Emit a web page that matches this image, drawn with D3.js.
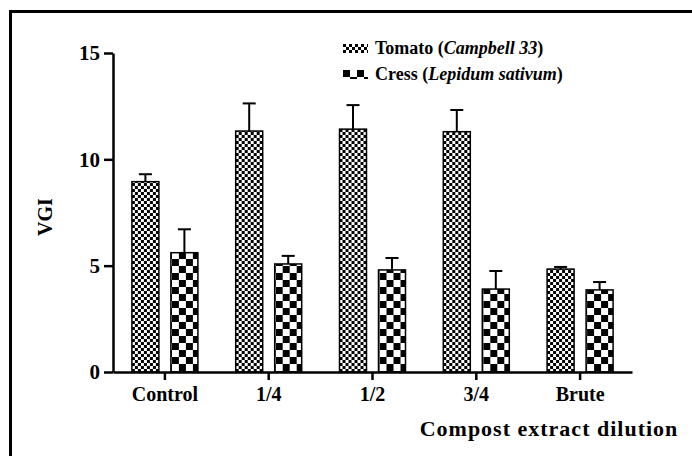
<!DOCTYPE html>
<html>
<head>
<meta charset="utf-8">
<script src="https://cdn.jsdelivr.net/npm/d3@7"></script>
<style>
  body { margin: 0; background: #fff; }
  svg { display: block; }
  text { font-family: "Liberation Serif", "Times New Roman", Times, "Nimbus Roman", "DejaVu Serif", serif !important; font-weight: bold; fill: #000; }
</style>
</head>
<body>
<script>
// chart data
const categories = ["Control", "1/4", "1/2", "3/4", "Brute"];
const series = ["Tomato", "Cress"];
const tomatoVgi = [8.95, 11.33, 11.42, 11.3, 4.84];
const tomatoErr = [0.35, 1.3, 1.13, 1.02, 0.1];
const cressVgi = [5.61, 5.08, 4.8, 3.9, 3.86];
const cressErr = [1.1, 0.38, 0.56, 0.85, 0.37];
const yTicks = [0, 5, 10, 15];

const width = 692, height = 456;

const svg = d3.select("body").append("svg")
  .attr("width", width)
  .attr("height", height);

// fill patterns
const defs = svg.append("defs");
function checker(id, cell) {
  const p = defs.append("pattern")
    .attr("id", id)
    .attr("patternUnits", "userSpaceOnUse")
    .attr("width", cell * 2)
    .attr("height", cell * 2);
  p.append("rect").attr("width", cell * 2).attr("height", cell * 2).attr("fill", "#fff");
  p.append("rect").attr("width", cell).attr("height", cell).attr("fill", "#000");
  p.append("rect").attr("x", cell).attr("y", cell).attr("width", cell).attr("height", cell).attr("fill", "#000");
}
checker("pat-tomato", 3);
checker("pat-cress", 7);
const fills = { Tomato: "url(#pat-tomato)", Cress: "url(#pat-cress)" };

// outer frame (cropped on the right and bottom)
svg.append("rect")
  .attr("x", 10.5).attr("y", 11.5)
  .attr("width", 720).attr("height", 500)
  .attr("fill", "none")
  .attr("stroke", "#000")
  .attr("stroke-width", 3);

const x = d3.scaleBand()
  .domain(categories)
  .range([113, 632])
  .padding(0);

const x1 = d3.scaleBand()
  .domain(series)
  .range([-33, 33])
  .paddingInner(12 / 39);

const y = d3.scaleLinear()
  .domain([0, 15])
  .range([372, 53]);

const rows = categories.map((c, i) => ({
  cat: c,
  vals: [
    { s: "Tomato", v: tomatoVgi[i], e: tomatoErr[i] },
    { s: "Cress", v: cressVgi[i], e: cressErr[i] }
  ]
}));

const groups = svg.append("g").selectAll("g")
  .data(rows)
  .enter().append("g")
  .attr("transform", d => `translate(${x(d.cat) + x.bandwidth() / 2},0)`);

const bars = groups.selectAll("g")
  .data(d => d.vals)
  .enter().append("g");

// error bars (upper only)
bars.append("line")
  .attr("x1", d => x1(d.s) + x1.bandwidth() / 2)
  .attr("x2", d => x1(d.s) + x1.bandwidth() / 2)
  .attr("y1", d => y(d.v))
  .attr("y2", d => y(d.v + d.e))
  .attr("stroke", "#000")
  .attr("stroke-width", 2);
bars.append("line")
  .attr("x1", d => x1(d.s) + x1.bandwidth() / 2 - 6.5)
  .attr("x2", d => x1(d.s) + x1.bandwidth() / 2 + 6.5)
  .attr("y1", d => y(d.v + d.e))
  .attr("y2", d => y(d.v + d.e))
  .attr("stroke", "#000")
  .attr("stroke-width", 2);

bars.append("rect")
  .attr("x", d => x1(d.s))
  .attr("y", d => y(d.v))
  .attr("width", x1.bandwidth())
  .attr("height", d => y(0) - y(d.v))
  .attr("fill", d => fills[d.s])
  .attr("stroke", "#000")
  .attr("stroke-width", 1.5);

// y axis
const yAxis = svg.append("g")
  .attr("transform", "translate(113,0)")
  .call(d3.axisLeft(y).tickValues(yTicks).tickSize(9).tickPadding(4).tickSizeOuter(0));
yAxis.attr("font-family", null);
yAxis.select(".domain").attr("stroke-width", 2.5);
yAxis.selectAll(".tick line").attr("stroke-width", 2.5);
yAxis.selectAll("text").style("font-size", "21px");

// x axis
const xAxis = svg.append("g")
  .attr("transform", "translate(0,372)")
  .call(d3.axisBottom(x).tickSize(8).tickPadding(7).tickSizeOuter(0));
xAxis.attr("font-family", null);
xAxis.select(".domain").attr("stroke-width", 2.5);
xAxis.selectAll(".tick line").attr("stroke-width", 2.5);
xAxis.selectAll("text").style("font-size", "20px");

// axis titles
svg.append("text")
  .attr("transform", "translate(52,217) rotate(-90)")
  .attr("text-anchor", "middle")
  .style("font-size", "20px")
  .text("VGI");

svg.append("text")
  .attr("x", 549)
  .attr("y", 436)
  .attr("text-anchor", "middle")
  .style("font-size", "22px")
  .style("letter-spacing", "1px")
  .text("Compost extract dilution");

// legend
const legendItems = [
  { s: "Tomato", name: "Tomato (", sci: "Campbell 33" },
  { s: "Cress", name: "Cress (", sci: "Lepidum sativum" }
];
const legend = svg.append("g").selectAll("g")
  .data(legendItems)
  .enter().append("g")
  .attr("transform", (d, i) => `translate(343,${44 + i * 26})`);
legend.append("rect")
  .attr("width", 25).attr("height", 9)
  .attr("fill", d => fills[d.s]);
const lt = legend.append("text")
  .attr("x", 32).attr("y", 10)
  .style("font-size", "18px");
lt.append("tspan").text(d => d.name);
lt.append("tspan").style("font-style", "italic").text(d => d.sci);
lt.append("tspan").text(")");
</script>
</body>
</html>
